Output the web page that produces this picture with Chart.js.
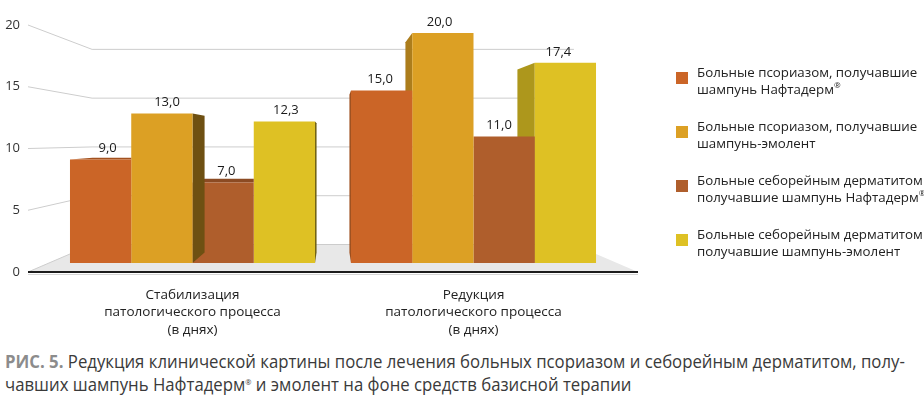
<!DOCTYPE html>
<html><head><meta charset="utf-8">
<script src="https://cdn.jsdelivr.net/npm/chart.js@4.4.0/dist/chart.umd.min.js"></script>
<style>
html,body{margin:0;padding:0;background:#fff;}
body{width:924px;height:398px;position:relative;overflow:hidden;font-family:"Open Sans",sans-serif;}
#c{position:absolute;left:0;top:0;}
#legend{position:absolute;left:676px;top:64px;width:248px;}
.item{position:relative;height:54px;}
.sw{position:absolute;left:0;top:8px;width:12px;height:12px;}
.txt{position:absolute;left:21px;top:0;font-size:13.3px;line-height:17px;color:#222;white-space:nowrap;}
sup{font-size:8px;line-height:0;vertical-align:6px;}
#caption{position:absolute;left:5px;top:350px;font-size:18px;line-height:23px;color:#3a3a3a;transform-origin:0 0;}
#caption div{white-space:nowrap;}
#caption b{color:#8c8c8c;font-weight:700;}
</style></head>
<body>
<canvas id="c" width="924" height="345"></canvas>
<div id="legend"></div>
<div id="caption">
<div id="cap1"><b>РИС. 5.</b> Редукция клинической картины после лечения больных псориазом и себорейным дерматитом, полу-</div>
<div id="cap2">чавших шампунь Нафтадерм<sup>®</sup> и эмолент на фоне средств базисной терапии</div>
</div>
<script>
// ---- data ----
const categories = [
  ["Стабилизация", "патологического процесса", "(в днях)"],
  ["Редукция", "патологического процесса", "(в днях)"]
];
const seriesNames = [
  "Больные псориазом, получавшие шампунь Нафтадерм®",
  "Больные псориазом, получавшие шампунь-эмолент",
  "Больные себорейным дерматитом получавшие шампунь Нафтадерм®",
  "Больные себорейным дерматитом получавшие шампунь-эмолент"
];
const legendLines = [
  ["Больные псориазом, получавшие", "шампунь Нафтадерм®"],
  ["Больные псориазом, получавшие", "шампунь-эмолент"],
  ["Больные себорейным дерматитом", "получавшие шампунь Нафтадерм®"],
  ["Больные себорейным дерматитом", "получавшие шампунь-эмолент"]
];
const psoriasisNaftaderm = [9.0, 15.0];
const psoriasisEmollient = [13.0, 20.0];
const seborrheaNaftaderm = [7.0, 11.0];
const seborrheaEmollient = [12.3, 17.4];
const yTicks = [0, 5, 10, 15, 20];
const seriesColors = ["#CB6527", "#DCA024", "#AF5E2C", "#DEC124"];

const seriesValues = [psoriasisNaftaderm, psoriasisEmollient, seborrheaNaftaderm, seborrheaEmollient];

// ---- perspective helpers ----
const persp = { floorExt: 24, backScale: 0.79, depth: 0.914, vpDrop: 131, labelK: 0.97 };
function shade(hex, f) {
  const n = parseInt(hex.slice(1), 16);
  const r = (n >> 16) & 255, g = (n >> 8) & 255, b = n & 255;
  return `rgb(${Math.round(r*f)},${Math.round(g*f)},${Math.round(b*f)})`;
}
function vanish(chart) {
  const a = chart.chartArea, ys = chart.scales.yAxis;
  return { x: (a.left + a.right) / 2, y: ys.getPixelForValue(0) - persp.vpDrop };
}
function poly(ctx, pts, fill) {
  ctx.fillStyle = fill; ctx.beginPath();
  pts.forEach((p, k) => k ? ctx.lineTo(p[0], p[1]) : ctx.moveTo(p[0], p[1]));
  ctx.closePath(); ctx.fill();
}
const threeD = {
  id: 'threeD',
  beforeDatasetsDraw(chart) {
    const ctx = chart.ctx, a = chart.chartArea, ys = chart.scales.yAxis, v = vanish(chart);
    const fl = a.left - persp.floorExt, fr = a.right + persp.floorExt;
    const bx = x => v.x + persp.backScale * (x - v.x);
    const by = y => v.y + persp.backScale * (y - v.y);
    const y0 = ys.getPixelForValue(0);
    ctx.save();
    poly(ctx, [[fl, y0], [bx(fl), by(y0)], [bx(fr), by(y0)], [fr, y0]], '#E8E8E8');
    ctx.strokeStyle = '#CDCDCD'; ctx.lineWidth = 1;
    yTicks.forEach(t => {
      const fy = ys.getPixelForValue(t);
      ctx.beginPath(); ctx.moveTo(fl, fy); ctx.lineTo(bx(fl), by(fy)); ctx.lineTo(bx(fr), by(fy)); ctx.stroke();
    });
    ctx.strokeStyle = '#1c1c1c'; ctx.lineWidth = 1.8;
    ctx.beginPath(); ctx.moveTo(fl, y0); ctx.lineTo(fr, y0); ctx.stroke();
    ctx.strokeStyle = '#D6D6D6'; ctx.lineWidth = 1;
    ctx.beginPath(); ctx.moveTo(fl, y0 + 2.5); ctx.lineTo(fr, y0 + 2.5); ctx.stroke();
    ctx.restore();
  },
  beforeDatasetDraw(chart, args) {
    const ctx = chart.ctx, ds = chart.data.datasets, i = args.index, v = vanish(chart);
    const K = persp.depth;
    const px = x => v.x + K * (x - v.x), py = y => v.y + K * (y - v.y);
    ctx.save();
    args.meta.data.forEach((bar, j) => {
      const p = bar.getProps(['x', 'y', 'base', 'width'], true);
      const l = p.x - p.width / 2, r = p.x + p.width / 2;
      const val = ds[i].data[j], col = seriesColors[i];
      const toRight = p.x < v.x;
      const ni = toRight ? i + 1 : i - 1;
      const nb = ds[ni] ? ds[ni].data[j] : null;
      if (nb === null || nb < val) {
        const ex = toRight ? r : l;
        poly(ctx, [[ex, p.y], [px(ex), py(p.y)], [px(ex), py(p.base)], [ex, p.base]], shade(col, toRight ? 0.5 : 0.78));
      }
      if (p.y > v.y) {
        ctx.save();
        ctx.beginPath(); ctx.rect(l, 0, r - l, chart.height); ctx.clip();
        poly(ctx, [[l, p.y], [r, p.y], [px(r), py(p.y)], [px(l), py(p.y)]], shade(col, 0.8));
        ctx.restore();
      }
    });
    ctx.restore();
  },
  afterDatasetsDraw(chart) {
    const ctx = chart.ctx, v = vanish(chart);
    ctx.save();
    ctx.font = '13px "Open Sans"'; ctx.fillStyle = '#1a1a1a';
    ctx.textAlign = 'center'; ctx.textBaseline = 'middle';
    chart.data.datasets.forEach((d, i) => {
      chart.getDatasetMeta(i).data.forEach((bar, j) => {
        const p = bar.getProps(['x', 'y'], true);
        ctx.fillText(d.data[j].toFixed(1).replace('.', ','), v.x + persp.labelK * (p.x - v.x), p.y - 11);
      });
    });
    ctx.restore();
  }
};

new Chart(document.getElementById('c'), {
  type: 'bar',
  data: {
    labels: categories,
    datasets: seriesValues.map((vals, i) => ({
      label: seriesNames[i], data: vals, backgroundColor: seriesColors[i],
      borderWidth: 0, xAxisID: 'x', yAxisID: 'y',
      categoryPercentage: 0.872, barPercentage: 1.0
    }))
  },
  options: {
    responsive: false, animation: false, events: [],
    layout: { padding: { top: 25, right: 310, left: 0, bottom: 0 } },
    plugins: { legend: { display: false }, tooltip: { enabled: false } },
    scales: {
      x: {
        grid: { display: false, drawTicks: false }, border: { display: false },
        ticks: { color: '#222', font: { family: 'Open Sans', size: 13.5, lineHeight: 1.3 }, padding: 14, maxRotation: 0 },
        afterFit: s => { s.height = 73; s.paddingLeft = 0; s.paddingRight = 0; }
      },
      y: { display: false, min: -0.79, max: 20.69 },
      yAxis: {
        position: 'left', min: 0, max: 20,
        grid: { display: false, drawTicks: false }, border: { display: false },
        ticks: { stepSize: 5, color: '#333', font: { family: 'Open Sans', size: 13 }, padding: 32 },
        afterFit: s => { s.width = 52; s.paddingTop = 8; s.paddingBottom = 8; }
      }
    }
  },
  plugins: [threeD]
});

// ---- HTML legend ----
const leg = document.getElementById('legend');
legendLines.forEach((lines, i) => {
  const it = document.createElement('div'); it.className = 'item';
  const sw = document.createElement('div'); sw.className = 'sw'; sw.style.background = seriesColors[i];
  const tx = document.createElement('div'); tx.className = 'txt';
  lines.forEach((ln, k) => {
    const parts = ln.split('®');
    parts.forEach((pt, m) => {
      tx.appendChild(document.createTextNode(pt));
      if (m < parts.length - 1) { const s = document.createElement('sup'); s.textContent = '®'; tx.appendChild(s); }
    });
    if (k < lines.length - 1) tx.appendChild(document.createElement('br'));
  });
  it.appendChild(sw); it.appendChild(tx); leg.appendChild(it);
});

// condensed caption to fit the reference line width
const cap = document.getElementById('caption');
const w1 = document.getElementById('cap1').scrollWidth;
cap.style.transform = `scaleX(${900 / w1})`;
</script>
</body></html>
